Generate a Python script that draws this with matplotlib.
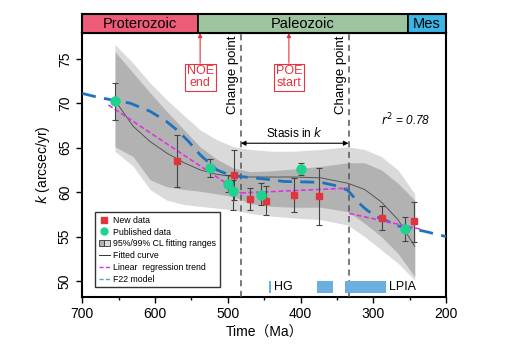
import matplotlib
matplotlib.use("Agg")
import matplotlib.pyplot as plt
from matplotlib.patches import Rectangle
from matplotlib.legend_handler import HandlerTuple
from matplotlib.lines import Line2D

plt.rcParams['font.family'] = ['Liberation Sans', 'Noto Sans CJK SC', 'DejaVu Sans']

# ---------------- data ----------------
new_age = [570, 492, 470, 447, 409, 374, 288, 243.5]
new_k = [63.55, 61.95, 59.2, 59.05, 59.7, 59.55, 57.1, 56.8]
new_lo = [60.6, 59.1, 58.0, 57.45, 57.8, 56.3, 55.75, 54.4]
new_hi = [66.4, 64.7, 60.45, 60.7, 61.6, 62.7, 58.4, 58.9]

pub_age = [655, 524, 500, 492.5, 455, 400, 257]
pub_k = [70.3, 62.7, 60.9, 60.15, 59.7, 62.6, 55.9]
pub_lo = [68.15, 61.75, 60.05, 58.0, 58.5, 61.9, 54.5]
pub_hi = [72.3, 63.75, 61.95, 61.4, 61.0, 63.3, 57.2]

band_age = [655, 630, 607, 584, 560, 538, 515, 492, 469, 440, 410, 372, 335, 312, 289, 266, 243]
ci99_hi = [76.6, 74.5, 72.3, 70.4, 68.6, 67.0, 65.9, 65.1, 64.8, 64.6, 64.6, 64.8, 65.1, 64.8, 64.0, 62.5, 59.8]
ci95_hi = [75.8, 73.4, 71.2, 69.1, 67.0, 65.1, 63.7, 62.7, 62.3, 62.4, 62.6, 62.9, 63.3, 63.3, 62.5, 61.0, 59.1]
ci95_lo = [65.1, 64.0, 61.4, 60.6, 60.3, 60.1, 59.8, 59.5, 58.7, 58.4, 58.3, 58.3, 57.8, 56.5, 55.0, 53.1, 50.5]
ci99_lo = [64.6, 62.9, 60.3, 59.1, 58.6, 58.4, 58.2, 58.0, 57.6, 57.3, 57.1, 56.9, 56.3, 55.0, 53.5, 52.0, 50.1]
fit_k = [70.3, 67.4, 65.7, 64.4, 63.3, 62.5, 62.0, 61.75, 61.7, 61.7, 61.7, 61.6, 61.0, 60.3, 58.9, 56.9, 53.9]

f22_age = [700, 680, 655, 634, 607, 585, 570, 555, 538, 515, 500, 482, 441, 423, 372, 350, 335, 320, 312, 298, 285, 266, 248, 230, 200]
f22_k = [71.1, 70.7, 70.3, 70.0, 69.1, 68.0, 67.0, 65.8, 64.2, 62.5, 62.0, 61.75, 61.4, 61.2, 61.1, 60.7, 60.2, 58.8, 58.2, 57.3, 56.9, 56.2, 55.9, 55.6, 55.0]

lin_seg1_age = [664, 482]
lin_seg1_k = [69.8, 59.9]
lin_seg2_age = [482, 335]
lin_seg2_k = [59.9, 60.45]
lin_seg3_age = [333, 233]
lin_seg3_k = [57.6, 55.8]

change_points = [482, 334]

era_names = ['Proterozoic', 'Paleozoic', 'Mes']
era_start = [700, 541, 252]
era_end = [541, 252, 200]
era_colors = ['#EE5C78', '#9DC49F', '#3AB5E6']

glac_start = [444, 377, 339]
glac_end = [440, 355, 283]

# ---------------- figure ----------------
fig = plt.figure(figsize=(5.07, 3.46), dpi=100)
ax = fig.add_axes([0.1623, 0.1416, 0.7174, 0.763])
bar = fig.add_axes([0.1623, 0.9046, 0.7174, 0.055])

XL = (700, 200)
YL = (48.2, 77.9)

light = '#DADADA'
dark = '#B2B2B2'

# bands
ax.fill_between(band_age, ci99_lo, ci99_hi, color=light, lw=0, zorder=1)
ax.fill_between(band_age, ci95_lo, ci95_hi, color=dark, lw=0, zorder=2)
ax.plot(band_age, fit_k, color='#555555', lw=0.7, zorder=3)

# F22
ax.plot(f22_age, f22_k, color='#1E73BE', lw=2.0, dashes=(5, 3), zorder=4)

# linear regression
mag = '#E033E0'
for a, k in [(lin_seg1_age, lin_seg1_k), (lin_seg2_age, lin_seg2_k), (lin_seg3_age, lin_seg3_k)]:
    ax.plot(a, k, color=mag, lw=1.2, dashes=(3, 1.5), zorder=5)

# change points
for cp in change_points:
    ax.axvline(cp, color='#555555', lw=1.1, dashes=(4, 3), zorder=3)
    ax.text(cp + 2, YL[1] - 0.3, 'Change point', rotation=90, ha='right', va='top',
            fontsize=9.5, color='black', zorder=6)

# error bars + markers
ecol = '#444444'
ax.errorbar(new_age, new_k, yerr=[[k - l for k, l in zip(new_k, new_lo)], [h - k for k, h in zip(new_k, new_hi)]],
            fmt='none', ecolor=ecol, elinewidth=0.8, capsize=2.5, capthick=0.8, zorder=6)
ax.errorbar(pub_age, pub_k, yerr=[[k - l for k, l in zip(pub_k, pub_lo)], [h - k for k, h in zip(pub_k, pub_hi)]],
            fmt='none', ecolor=ecol, elinewidth=0.8, capsize=2.5, capthick=0.8, zorder=6)
red = '#E3343D'
green = '#1ED38F'
ax.plot(new_age, new_k, 's', color=red, ms=5, mec=red, zorder=7, ls='none')
ax.plot(pub_age, pub_k, 'o', color=green, ms=6.5, mec=green, zorder=7, ls='none')

# glaciation bars
gcol = '#6AAFE0'
for s, e in zip(glac_start, glac_end):
    ax.add_patch(Rectangle((e, 48.6), s - e, 1.45, color=gcol, lw=0, zorder=3))
ax.text(437, 49.3, 'HG', fontsize=9, va='center', ha='left')
ax.text(279, 49.3, 'LPIA', fontsize=9, va='center', ha='left')

# annotations
red_t = '#E8323C'
for age, lab in [(538, 'NOE\nend'), (416, 'POE\nstart')]:
    ax.annotate(lab, xy=(age, YL[1]), xytext=(age, 72.9), ha='center', va='center',
                fontsize=9, color=red_t, linespacing=1.0,
                bbox=dict(boxstyle='square,pad=0.15', fc='white', ec=red_t, lw=0.8),
                arrowprops=dict(arrowstyle='-|>', color=red_t, lw=0.8, mutation_scale=6,
                                shrinkA=0, shrinkB=0), zorder=8)

ax.annotate('', xy=(change_points[0], 65.5), xytext=(change_points[1], 65.5),
            arrowprops=dict(arrowstyle='<|-|>', color='black', lw=0.8, mutation_scale=7,
                            shrinkA=0, shrinkB=0), zorder=8)
ax.text(408, 65.9, 'Stasis in $k$', fontsize=8.5, ha='center', va='bottom', zorder=8)
ax.text(255, 68.1, '$r^2$ = 0.78', fontsize=8.5, style='italic', ha='center', va='center')

# axes formatting
ax.set_xlim(*XL)
ax.set_ylim(*YL)
ax.set_xticks([700, 600, 500, 400, 300, 200])
ax.set_xticks([650, 550, 450, 350, 250], minor=True)
ax.set_yticks([50, 55, 60, 65, 70, 75])
ax.tick_params(axis='both', which='major', direction='out', length=4, width=1, labelsize=10)
ax.tick_params(axis='x', which='minor', direction='out', length=2.5, width=1)
for lab in ax.get_yticklabels():
    lab.set_rotation(90)
    lab.set_va('center')
for sp in ax.spines.values():
    sp.set_linewidth(1.5)
ax.set_xlabel('Time（Ma）', fontsize=10, labelpad=3)
ax.set_ylabel('$k$ (arcsec/yr)', fontsize=10, labelpad=4)

# legend
cl_handle = (Rectangle((0, 0), 1, 1, fc=dark, ec='#333333', lw=0.6),
             Rectangle((0, 0), 1, 1, fc=light, ec='#333333', lw=0.6))
handles = [
    Line2D([], [], marker='s', color=red, ls='none', ms=4.5),
    Line2D([], [], marker='o', color=green, ls='none', ms=5),
    cl_handle,
    Line2D([], [], color='#333333', lw=0.7),
    Line2D([], [], color=mag, lw=1.0, dashes=(3, 1.5)),
    Line2D([], [], color='#4FA3D9', lw=1.0, dashes=(3, 1.5)),
]
labels = ['New data', 'Published data', '95%/99% CL fitting ranges', 'Fitted curve',
          'Linear  regression trend', 'F22 model']
leg = ax.legend(handles, labels, loc='lower left', bbox_to_anchor=(0.035, 0.037),
                borderaxespad=0, fontsize=6.3, frameon=True, fancybox=False,
                edgecolor='black', handlelength=1.3, handletextpad=0.4,
                labelspacing=0.32, borderpad=0.4,
                handler_map={tuple: HandlerTuple(ndivide=None, pad=0)})
leg.get_frame().set_linewidth(1.0)
leg.set_zorder(9)

# geological bar
bar.set_xlim(*XL)
bar.set_ylim(0, 1)
for n, s, e, c in zip(era_names, era_start, era_end, era_colors):
    bar.add_patch(Rectangle((e, 0), s - e, 1, fc=c, ec='black', lw=1.2))
    bar.text((s + e) / 2, 0.48, n, ha='center', va='center', fontsize=10.5)
bar.set_xticks([])
bar.set_yticks([])
for sp in bar.spines.values():
    sp.set_linewidth(1.5)

fig.savefig('out.png', dpi=100)
